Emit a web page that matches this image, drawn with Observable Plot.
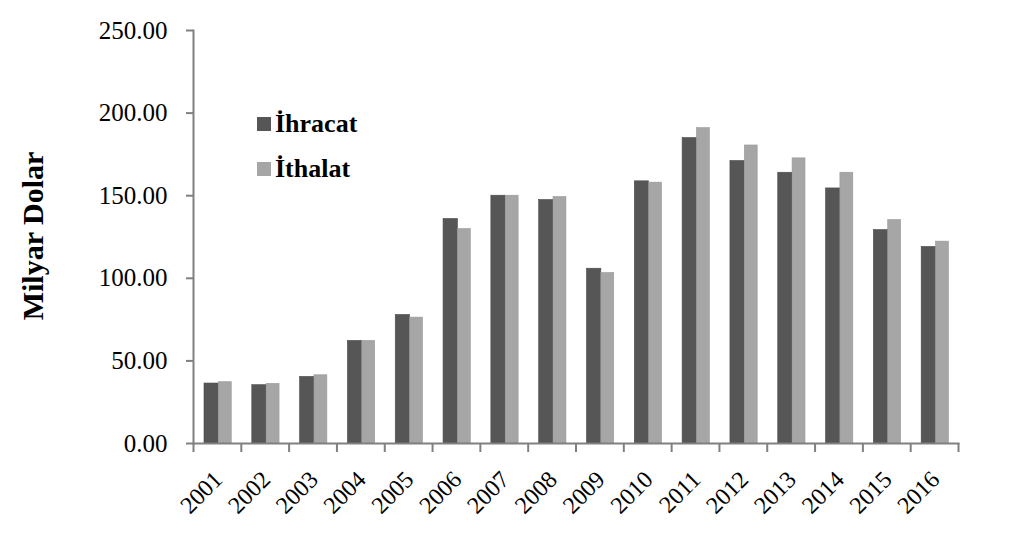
<!DOCTYPE html>
<html>
<head>
<meta charset="utf-8">
<script src="https://cdn.jsdelivr.net/npm/d3@7"></script>
<script src="https://cdn.jsdelivr.net/npm/@observablehq/plot@0.6"></script>
<style>
  html, body { margin: 0; padding: 0; background: #fff; }
  #wrap { position: relative; width: 1024px; height: 553px; font-family: "Liberation Serif", "Times New Roman", serif; }
  #wrap svg { position: absolute; left: 0; top: 0; }
  .legend { position: absolute; left: 257px; font-weight: bold; font-size: 26px; color: #000; display: flex; align-items: center; line-height: 1; }
  .legend span.sw { display: inline-block; width: 14px; height: 14px; margin-right: 4px; }
  .ylabel { position: absolute; left: 33px; top: 236px; transform: translate(-50%, -50%) rotate(-90deg); font-weight: bold; font-size: 30px; white-space: nowrap; }
</style>
</head>
<body>
<div id="wrap"></div>
<script>
const years = ["2001","2002","2003","2004","2005","2006","2007","2008","2009","2010","2011","2012","2013","2014","2015","2016"];
const ihracat = [36.3, 35.3, 40.3, 62.1, 77.8, 135.9, 150.0, 147.4, 105.8, 158.7, 184.9, 171.0, 163.9, 154.4, 129.2, 119.0];
const ithalat = [37.1, 36.1, 41.3, 62.1, 76.2, 129.8, 150.0, 149.2, 103.2, 157.9, 190.9, 180.4, 172.6, 163.9, 135.3, 122.2];
const seriesNames = ["İhracat", "İthalat"];
const seriesColors = ["#565656", "#a6a6a6"];
const yTicks = [0, 50, 100, 150, 200, 250];
const yTitle = "Milyar Dolar";

const dark = years.map((y, i) => ({year: y, value: ihracat[i]}));
const light = years.map((y, i) => ({year: y, value: ithalat[i]}));

const W = 1024, H = 553;
const mL = 193, mR = 66, mT = 30, mB = 110;
const step = (W - mL - mR) / years.length;

const font = "'Liberation Serif', 'Times New Roman', serif";

const chart = Plot.plot({
  width: W,
  height: H,
  marginLeft: mL,
  marginRight: mR,
  marginTop: mT,
  marginBottom: mB,
  style: {fontFamily: font, fontSize: "24px", background: "transparent", color: "#000"},
  x: {type: "band", domain: years, padding: 0, round: false, label: null},
  y: {domain: [0, 250], label: null},
  marks: [
    Plot.barY(dark, {x: "year", y: "value", fill: seriesColors[0], stroke: "#4a4a4a", strokeWidth: 0.6,
      insetLeft: step * 0.23, insetRight: step * 0.47}),
    Plot.barY(light, {x: "year", y: "value", fill: seriesColors[1], stroke: "#999", strokeWidth: 0.6,
      insetLeft: step * 0.53, insetRight: step * 0.20}),
    Plot.frame({anchor: "left", stroke: "#808080", strokeWidth: 2}),
    Plot.frame({anchor: "bottom", stroke: "#808080", strokeWidth: 2}),
    Plot.axisY({ticks: yTicks, tickFormat: d3.format(".2f"), tickSize: 7, tickPadding: 19,
      stroke: "#808080", strokeWidth: 2, fill: "#000", fontSize: 25, label: null}),
    Plot.ruleX(years, {x: d => d, y1: 0, y2: 0, insetBottom: -9, dx: -step / 2, stroke: "#808080", strokeWidth: 2}),
    Plot.ruleX(years.slice(-1), {x: d => d, y1: 0, y2: 0, insetBottom: -9, dx: step / 2, stroke: "#808080", strokeWidth: 2}),
    Plot.axisX({tickSize: 0, tickRotate: -45, tickPadding: 32, dx: 1, fontSize: 24, fill: "#000", label: null})
  ]
});

const wrap = document.getElementById("wrap");
wrap.appendChild(chart);

const yl = document.createElement("div");
yl.className = "ylabel";
yl.textContent = yTitle;
wrap.appendChild(yl);

const legendTops = [111, 156];
seriesNames.forEach((name, i) => {
  const d = document.createElement("div");
  d.className = "legend";
  d.style.top = legendTops[i] + "px";
  const sw = document.createElement("span");
  sw.className = "sw";
  sw.style.background = seriesColors[i];
  d.appendChild(sw);
  d.appendChild(document.createTextNode(name));
  wrap.appendChild(d);
});
</script>
</body>
</html>
